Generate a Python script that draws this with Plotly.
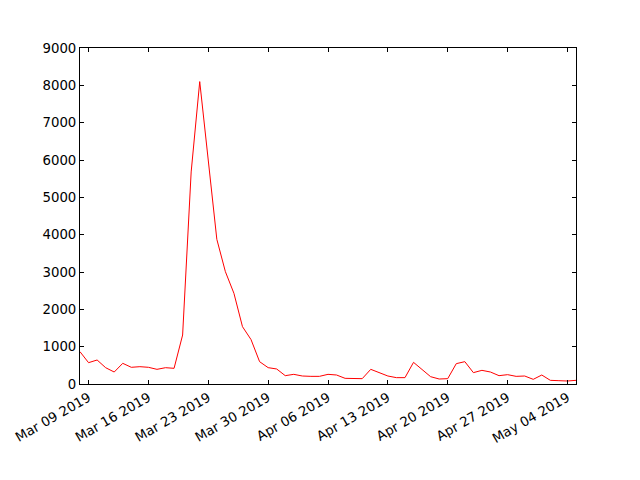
import plotly.graph_objects as go
import pandas as pd

dates = pd.date_range("2019-03-08", "2019-05-05", freq="D").strftime("%Y-%m-%d").tolist()
values = [
    865, 571, 643, 437, 321, 554, 447, 464, 447, 393, 437, 420,  # Mar 8 - Mar 19
    1312, 5680, 8100, 5900, 3875, 3009, 2429, 1536, 1190,        # Mar 20 - Mar 28
    598, 438, 402, 223, 259, 214, 205, 205, 259, 241, 152, 152,  # Mar 29 - Apr 9
    143, 393, 304, 214, 170, 170, 580, 385, 196, 134, 143,       # Apr 10 - Apr 20
    545, 598, 304, 366, 321, 223, 250, 205, 214, 125, 241,       # Apr 21 - May 1
    98, 89, 80, 98,                                              # May 2 - May 5
]
tick_dates = ["2019-03-09", "2019-03-16", "2019-03-23", "2019-03-30", "2019-04-06",
              "2019-04-13", "2019-04-20", "2019-04-27", "2019-05-04"]
tick_labels = ["Mar 09 2019", "Mar 16 2019", "Mar 23 2019", "Mar 30 2019", "Apr 06 2019",
               "Apr 13 2019", "Apr 20 2019", "Apr 27 2019", "May 04 2019"]
y_ticks = [0, 1000, 2000, 3000, 4000, 5000, 6000, 7000, 8000, 9000]

fig = go.Figure()
fig.add_trace(go.Scatter(x=dates, y=values, mode="lines",
                         line=dict(color="#ff0000", width=1), showlegend=False))

axis_common = dict(showline=True, linecolor="black", linewidth=1, mirror="ticks",
                   ticks="inside", ticklen=4, tickcolor="black", showgrid=False,
                   zeroline=False, automargin=False,
                   tickfont=dict(family="DejaVu Sans", size=13.3, color="black"))

fig.update_layout(
    template="none",
    width=640, height=480,
    margin=dict(l=72, r=72, t=40, b=104, pad=0),
    paper_bgcolor="white", plot_bgcolor="white",
    font=dict(family="DejaVu Sans", size=13.3, color="black"),
    xaxis=dict(type="date", range=[dates[0], dates[-1]], tickvals=tick_dates,
               ticktext=tick_labels, tickangle=-30, **axis_common),
    yaxis=dict(range=[0, 9000], tickvals=y_ticks, **axis_common),
)

fig.write_html("out.html")
